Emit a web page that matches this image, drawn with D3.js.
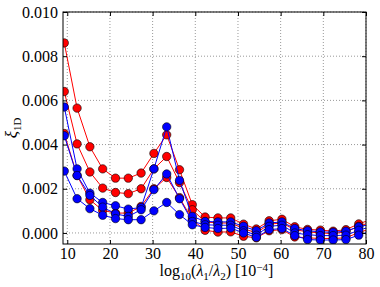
<!DOCTYPE html>
<html>
<head>
<meta charset="utf-8">
<script src="https://cdn.jsdelivr.net/npm/d3@7"></script>
<style>
  body { margin: 0; background: #fff; }
  text { font-family: "Liberation Serif", "DejaVu Serif", serif; }
</style>
</head>
<body>
<div id="chart"></div>
<script>
// x positions of the samples (last one falls outside the axes and is clipped)
let xVals = [9.3, 12.3, 15.3, 18.3, 21.3, 24.3, 27.3, 30.3, 33.3, 36.3, 39.3, 42.3, 45.3,
             48.3, 51.3, 54.3, 57.3, 60.3, 63.3, 66.3, 69.3, 72.3, 75.3, 78.3, 81.3];

let red1 = [0.0086, 0.00565, 0.0039, 0.0029, 0.00248, 0.00248, 0.00271, 0.0036, 0.00444, 0.00286, 0.00128, 0.00072, 0.00068,
            0.00068, 0.0004, 0.00018, 0.00055, 0.00062, 0.00028, 0.00016, 0.00013, 0.00008, 0.00015, 0.00041, 0.00062];
let red2 = [0.0064, 0.00403, 0.00276, 0.00203, 0.00183, 0.00178, 0.002, 0.0029, 0.00346, 0.00228, 0.00105, 0.0005, 0.00045,
            0.00045, 0.0002, 0.0, 0.0004, 0.00045, 0.00015, 0.00005, 0.0, -0.00003, 0.00005, 0.0003, 0.0005];
let red3 = [0.0045, 0.0026, 0.0015, 0.00102, 0.0009, 0.0009, 0.0012, 0.002, 0.00251, 0.0016, 0.0006, 0.00012, 0.00004,
            0.00005, -0.00015, -0.00022, 0.0001, 0.00015, -0.00018, -0.00022, -0.00025, -0.00025, -0.00022, 0.00002, 0.0002];
let blue1 = [0.0057, 0.0029, 0.0018, 0.00138, 0.00123, 0.00108, 0.00115, 0.0029, 0.0048, 0.00238, 0.00075, 0.00052, 0.0005,
             0.0005, 0.0003, 0.0001, 0.00045, 0.0005, 0.0002, 0.0001, 0.00005, 0.00003, 0.00008, 0.00028, 0.0004];
let blue2 = [0.0044, 0.0026, 0.0017, 0.00117, 0.00086, 0.00075, 0.00105, 0.00196, 0.00267, 0.00155, 0.00052, 0.00037, 0.00035,
             0.00035, 0.0001, -0.0001, 0.0003, 0.00035, 0.0, -0.00008, -0.00012, -0.00012, -0.0001, 0.00012, 0.0003];
let blue3 = [0.0028, 0.00155, 0.0011, 0.0008, 0.00065, 0.0006, 0.0006, 0.001, 0.00138, 0.00083, 0.00037, 0.00025, 0.0002,
             0.00022, 0.0, -0.0002, 0.00015, 0.0002, -0.00012, -0.0003, -0.00032, -0.00032, -0.0003, -0.0001, 0.0001];

let xTicks = [10, 20, 30, 40, 50, 60, 70, 80];
let yTicks = [0.000, 0.002, 0.004, 0.006, 0.008, 0.010];

let series = [
  {color: "#ff0000", values: red1},
  {color: "#ff0000", values: red2},
  {color: "#ff0000", values: red3},
  {color: "#0000ff", values: blue1},
  {color: "#0000ff", values: blue2},
  {color: "#0000ff", values: blue3}
];

var width = 380, height = 287;
var margin = {top: 12, right: 14, bottom: 43, left: 63};
var w = width - margin.left - margin.right,
    h = height - margin.top - margin.bottom;

var svg = d3.select("#chart")
  .append("svg")
    .attr("width", width)
    .attr("height", height)
  .append("g")
    .attr("transform", "translate(" + margin.left + "," + margin.top + ")");

var x = d3.scaleLinear().domain([9, 80]).range([0, w]);
var y = d3.scaleLinear().domain([-0.0005, 0.010]).range([h, 0]);

svg.append("clipPath").attr("id", "clip")
  .append("rect").attr("width", w).attr("height", h);

// dotted grid
svg.append("g")
  .selectAll("line")
  .data(xTicks)
  .enter().append("line")
    .attr("x1", d => x(d)).attr("x2", d => x(d))
    .attr("y1", 0).attr("y2", h)
    .style("stroke", "#999")
    .style("stroke-width", 1)
    .style("stroke-dasharray", "1,2");
svg.append("g")
  .selectAll("line")
  .data(yTicks)
  .enter().append("line")
    .attr("x1", 0).attr("x2", w)
    .attr("y1", d => y(d)).attr("y2", d => y(d))
    .style("stroke", "#999")
    .style("stroke-width", 1)
    .style("stroke-dasharray", "1,2");

var line = d3.line()
  .x((d, i) => x(xVals[i]))
  .y(d => y(d));

var plot = svg.append("g").attr("clip-path", "url(#clip)");

series.forEach(function(s) {
  var g = plot.append("g");
  g.append("path")
    .datum(s.values)
    .attr("d", line)
    .style("fill", "none")
    .style("stroke", s.color)
    .style("stroke-width", 1);
  g.selectAll("circle")
    .data(s.values)
    .enter().append("circle")
      .attr("cx", (d, i) => x(xVals[i]))
      .attr("cy", d => y(d))
      .attr("r", 4.2)
      .style("fill", s.color)
      .style("stroke", "#000")
      .style("stroke-width", 0.6);
});

// axes, ticks pointing inward on all four sides
var fmt = d3.format(".3f");
svg.append("g")
  .attr("transform", "translate(0," + h + ")")
  .call(d3.axisBottom(x).tickValues(xTicks).tickSizeInner(-4).tickSizeOuter(0).tickPadding(4))
  .call(g => g.select(".domain").remove());
svg.append("g")
  .call(d3.axisTop(x).tickValues(xTicks).tickSizeInner(-4).tickSizeOuter(0).tickFormat(""))
  .call(g => g.select(".domain").remove());
svg.append("g")
  .call(d3.axisLeft(y).tickValues(yTicks).tickSizeInner(-4).tickSizeOuter(0).tickPadding(5).tickFormat(fmt))
  .call(g => g.select(".domain").remove());
svg.append("g")
  .attr("transform", "translate(" + w + ",0)")
  .call(d3.axisRight(y).tickValues(yTicks).tickSizeInner(-4).tickSizeOuter(0).tickFormat(""))
  .call(g => g.select(".domain").remove());

svg.selectAll(".tick text")
  .style("font-family", "'Liberation Serif', serif")
  .style("font-size", "16px")
  .style("fill", "#000");
svg.selectAll(".tick line").style("stroke", "#000");

svg.append("rect")
  .attr("width", w).attr("height", h)
  .style("fill", "none")
  .style("stroke", "#000")
  .style("stroke-width", 1);

// axis labels
var xl = svg.append("text")
  .attr("x", w / 2 + 2)
  .attr("y", h + 32)
  .attr("text-anchor", "middle")
  .style("font-size", "16px");
xl.append("tspan").text("log");
xl.append("tspan").attr("dy", 4).style("font-size", "11px").text("10");
xl.append("tspan").attr("dy", -4).text("(");
xl.append("tspan").style("font-style", "italic").text("λ");
xl.append("tspan").attr("dy", 4).style("font-size", "11px").text("1");
xl.append("tspan").attr("dy", -4).text("/");
xl.append("tspan").style("font-style", "italic").text("λ");
xl.append("tspan").attr("dy", 4).style("font-size", "11px").text("2");
xl.append("tspan").attr("dy", -4).text(") [10");
xl.append("tspan").attr("dy", -5).style("font-size", "11px").text("−4");
xl.append("tspan").attr("dy", 5).text("]");

var yl = svg.append("text")
  .attr("transform", "translate(" + (-46) + "," + (h / 2) + ") rotate(-90)")
  .attr("text-anchor", "middle")
  .style("font-size", "17px");
yl.append("tspan").style("font-style", "italic").text("ξ");
yl.append("tspan").attr("dy", 4).style("font-size", "11px").text("1D");
</script>
</body>
</html>
